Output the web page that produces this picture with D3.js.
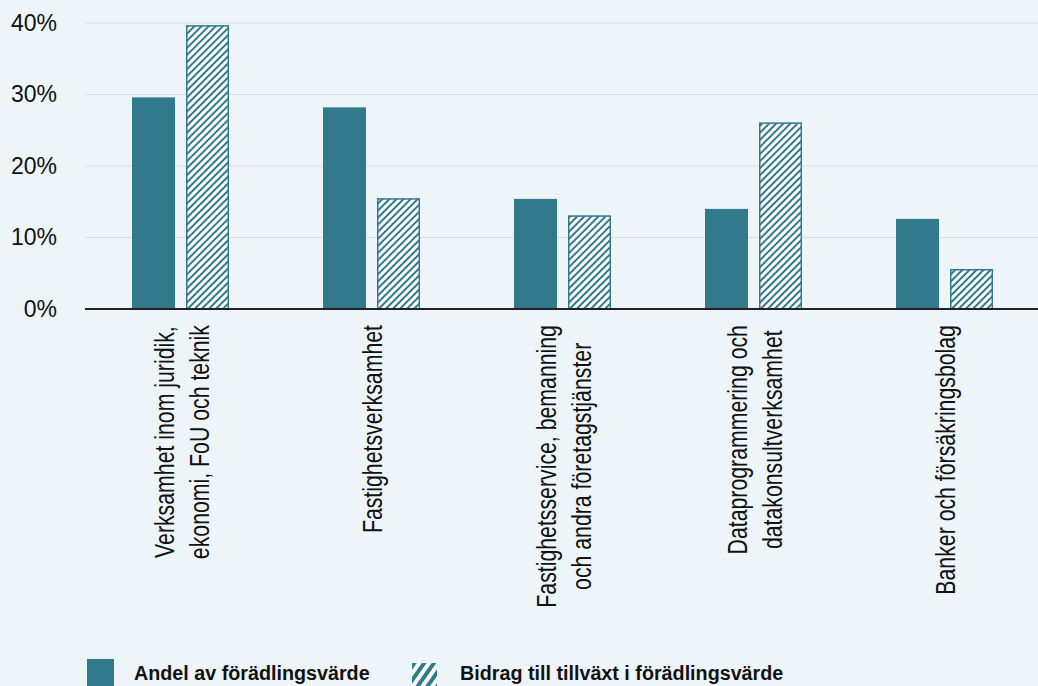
<!DOCTYPE html>
<html>
<head>
<meta charset="utf-8">
<script src="https://cdnjs.cloudflare.com/ajax/libs/d3/7.8.5/d3.min.js"></script>
<style>
  html, body { margin: 0; padding: 0; background: #eef5f8; }
  svg { display: block; }
  text { font-family: "Liberation Sans", Arial, sans-serif; fill: #111; }
</style>
</head>
<body>
<div id="chart"></div>
<script>
// data
const categories = [
  ["Verksamhet inom juridik,", "ekonomi, FoU och teknik"],
  ["Fastighetsverksamhet"],
  ["Fastighetsservice, bemanning", "och andra företagstjänster"],
  ["Dataprogrammering och", "datakonsultverksamhet"],
  ["Banker och försäkringsbolag"]
];
const seriesNames = ["Andel av förädlingsvärde", "Bidrag till tillväxt i förädlingsvärde"];
const andel = [29.6, 28.2, 15.4, 14.0, 12.6];
const bidrag = [39.7, 15.5, 13.1, 26.1, 5.6];
const yTicks = [0, 10, 20, 30, 40];

{
  const W = 1038, H = 686;
  const teal = "#317a8c";
  const condense = 0.76;     // narrow font look for category labels
  const legCondense = 0.94;

  const svg = d3.select("#chart").append("svg")
    .attr("width", W).attr("height", H);

  const defs = svg.append("defs");
  const hatch = defs.append("pattern")
    .attr("id", "hatch").attr("patternUnits", "userSpaceOnUse")
    .attr("width", 5).attr("height", 5)
    .attr("patternTransform", "rotate(45)");
  hatch.append("rect").attr("width", 5).attr("height", 5).attr("fill", "#fff");
  hatch.append("rect").attr("width", 2).attr("height", 5).attr("fill", teal);

  const hatchBig = defs.append("pattern")
    .attr("id", "hatchBig").attr("patternUnits", "userSpaceOnUse")
    .attr("width", 8).attr("height", 8)
    .attr("patternTransform", "translate(412,663) rotate(35)");
  hatchBig.append("rect").attr("width", 8).attr("height", 8).attr("fill", "#fff");
  hatchBig.append("rect").attr("width", 4).attr("height", 8).attr("fill", teal);

  const idx = d3.range(categories.length);
  const x0 = d3.scaleBand().domain(idx).range([85, 1040]);
  const x1 = d3.scaleBand().domain([0, 1]).range([0, x0.bandwidth()])
    .paddingInner(0.204).paddingOuter(0.87);
  const y = d3.scaleLinear().domain([0, 40]).range([309, 23]);

  // grid
  svg.append("g").selectAll("line").data(yTicks.filter(d => d > 0)).join("line")
    .attr("x1", 85).attr("x2", W)
    .attr("y1", d => y(d)).attr("y2", d => y(d))
    .attr("stroke", "#d9dde0").attr("stroke-width", 1.2);

  // y axis labels
  const yAxis = svg.append("g").attr("transform", "translate(57,0)")
    .call(d3.axisLeft(y).tickValues(yTicks).tickFormat(d => d + "%").tickSize(0).tickPadding(0));
  yAxis.select(".domain").remove();
  yAxis.selectAll("text")
    .style("font-family", '"Liberation Sans", Arial, sans-serif')
    .style("font-size", "23px").attr("fill", "#111");

  // bars
  const groups = svg.append("g").selectAll("g").data(idx).join("g")
    .attr("transform", i => `translate(${x0(i)},0)`);

  groups.append("rect")
    .attr("x", x1(0)).attr("width", x1.bandwidth())
    .attr("y", i => y(andel[i])).attr("height", i => y(0) - y(andel[i]))
    .attr("fill", teal);

  groups.append("rect")
    .attr("x", x1(1) + 0.75).attr("width", x1.bandwidth() - 1.5)
    .attr("y", i => y(bidrag[i]) + 0.75).attr("height", i => y(0) - y(bidrag[i]) - 0.75)
    .attr("fill", "url(#hatch)")
    .attr("stroke", teal).attr("stroke-width", 1.5);

  // x axis line
  svg.append("line")
    .attr("x1", 85).attr("x2", W).attr("y1", y(0)).attr("y2", y(0))
    .attr("stroke", "#222").attr("stroke-width", 2);

  // category labels, rotated, lines centred, longest line starting just under axis
  const lineGap = 35;
  groups.each(function (i) {
    const lines = categories[i];
    const g = d3.select(this);
    const cx = x0.bandwidth() / 2 + 10.5;
    const tmp = g.selectAll("text.tmp").data(lines).join("text")
      .attr("class", "tmp").style("font-size", "28px").text(d => d);
    const maxLen = d3.max(tmp.nodes(), n => n.getComputedTextLength()) * condense;
    tmp.remove();
    const cy = 325 + maxLen / 2;
    g.selectAll("text.lbl").data(lines).join("text")
      .attr("class", "lbl")
      .style("font-size", "28px")
      .attr("text-anchor", "middle")
      .attr("transform", (d, k) =>
        `translate(${cx + (k - (lines.length - 1) / 2) * lineGap},${cy}) rotate(-90) scale(${condense},1)`)
      .text(d => d);
  });

  // legend
  const legend = svg.append("g");
  legend.append("rect").attr("x", 87).attr("y", 659).attr("width", 27).attr("height", 27).attr("fill", teal);
  legend.append("rect").attr("x", 412).attr("y", 663).attr("width", 25).attr("height", 23).attr("fill", "url(#hatchBig)");
  const legX = [134, 460];
  seriesNames.forEach((s, k) => {
    legend.append("text")
      .attr("transform", `translate(${legX[k]},680) scale(${legCondense},1)`)
      .style("font-size", "21px").style("font-weight", "bold")
      .text(s);
  });
}
</script>
</body>
</html>
